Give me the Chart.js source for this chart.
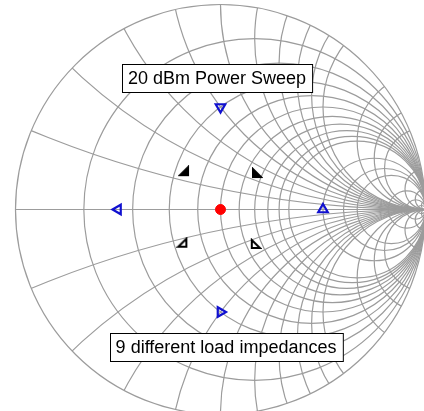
<!DOCTYPE html>
<html>
<head>
<meta charset="utf-8">
<script src="https://cdn.jsdelivr.net/npm/chart.js@4"></script>
<style>
  html, body { margin: 0; padding: 0; background: #fff; }
</style>
</head>
<body>
<canvas id="smith" width="424" height="411"></canvas>
<script>
// grid values of the Smith chart (normalized resistance / reactance)
const resistances = [0.2, 0.4, 0.6, 0.8, 1, 1.2, 1.4, 1.6, 1.8, 2, 3, 4, 5, 10, 20, 50]
const reactances = [0.2, 0.4, 0.6, 0.8, 1, 1.2, 1.4, 1.6, 1.8, 2, 3, 4, 5, 10, 20, 50]

// reflection coefficients (real / imaginary part)
const centerRe = [0]
const centerIm = [0]
const loadRe = [0, -0.5, 0.5, 0]
const loadIm = [0.5, 0, 0, -0.5]
const loadRotation = [180, 270, 0, 90]
const innerRe = [-0.178, 0.178, -0.186, 0.172]
const innerIm = [0.187, 0.178, -0.162, -0.168]

const labels = ['20 dBm Power Sweep', '9 different load impedances']
const labelRe = [-0.017, 0.027]
const labelIm = [0.641, -0.672]

function toPoints(re, im) {
  return re.map((v, i) => ({ x: v, y: im[i] }))
}

function cornerMark(leftAngle, filled) {
  const c = document.createElement('canvas')
  c.width = 12
  c.height = 12
  const g = c.getContext('2d')
  g.beginPath()
  if (leftAngle) {
    g.moveTo(2, 2); g.lineTo(2, 10); g.lineTo(10, 10)
  } else {
    g.moveTo(10, 2); g.lineTo(10, 10); g.lineTo(2, 10)
  }
  g.closePath()
  g.fillStyle = '#000'
  g.strokeStyle = '#000'
  g.lineWidth = 2
  g.lineJoin = 'miter'
  if (filled) g.fill()
  g.stroke()
  return c
}

const innerStyles = [cornerMark(false, true), cornerMark(true, true), cornerMark(false, false), cornerMark(true, false)]

const smithGrid = {
  id: 'smithGrid',
  beforeDatasetsDraw(chart) {
    const { ctx, scales: { x, y } } = chart
    const px = v => x.getPixelForValue(v)
    const py = v => y.getPixelForValue(v)
    const unit = px(1) - px(0)
    ctx.save()
    ctx.strokeStyle = '#9c9c9c'
    ctx.lineWidth = 1.2
    ctx.beginPath()
    ctx.arc(px(0), py(0), unit, 0, 2 * Math.PI)
    ctx.stroke()
    ctx.clip()
    ctx.beginPath()
    ctx.moveTo(px(-1), py(0))
    ctx.lineTo(px(1), py(0))
    ctx.stroke()
    resistances.forEach(r => {
      ctx.beginPath()
      ctx.arc(px(r / (r + 1)), py(0), unit / (r + 1), 0, 2 * Math.PI)
      ctx.stroke()
    })
    reactances.forEach(xv => {
      [xv, -xv].forEach(v => {
        ctx.beginPath()
        ctx.arc(px(1), py(1 / v), unit / Math.abs(v), 0, 2 * Math.PI)
        ctx.stroke()
      })
    })
    ctx.restore()
  }
}

const textBoxes = {
  id: 'textBoxes',
  afterDatasetsDraw(chart) {
    const { ctx, scales: { x, y } } = chart
    ctx.save()
    ctx.font = '18px "Liberation Sans", Arial, sans-serif'
    ctx.textAlign = 'center'
    ctx.textBaseline = 'middle'
    labels.forEach((t, i) => {
      const cx = x.getPixelForValue(labelRe[i])
      const cy = y.getPixelForValue(labelIm[i])
      const w = ctx.measureText(t).width + 12
      const h = 28
      const left = Math.round(cx - w / 2) + 0.5
      const top = Math.round(cy - h / 2) + 0.5
      ctx.fillStyle = '#fff'
      ctx.fillRect(left, top, w, h)
      ctx.strokeStyle = '#000'
      ctx.lineWidth = 1
      ctx.strokeRect(left, top, w, h)
      ctx.fillStyle = '#000'
      ctx.fillText(t, cx, cy + 1)
    })
    ctx.restore()
  }
}

const conf = {
  type: 'scatter',
  data: {
    datasets: [
      {
        data: toPoints(innerRe, innerIm),
        pointStyle: innerStyles,
        pointRadius: 6,
        pointHoverRadius: 6
      },
      {
        data: toPoints(loadRe, loadIm),
        pointStyle: 'triangle',
        rotation: loadRotation,
        pointRadius: 5.5,
        pointHoverRadius: 5.5,
        borderColor: '#1010d0',
        backgroundColor: 'rgba(0,0,0,0)',
        borderWidth: 2.2
      },
      {
        data: toPoints(centerRe, centerIm),
        pointStyle: 'circle',
        pointRadius: 5,
        pointHoverRadius: 5,
        borderColor: '#ff0000',
        backgroundColor: '#ff0000',
        borderWidth: 1
      }
    ]
  },
  options: {
    responsive: false,
    animation: false,
    layout: { padding: 0, autoPadding: false },
    plugins: { legend: { display: false }, tooltip: { enabled: false } },
    scales: {
      x: { type: 'linear', min: -1.0756, max: 0.9927, display: false },
      y: { type: 'linear', min: -0.9829, max: 1.022, display: false }
    }
  },
  plugins: [smithGrid, textBoxes]
}

new Chart(document.getElementById('smith').getContext('2d'), conf)
</script>
</body>
</html>
